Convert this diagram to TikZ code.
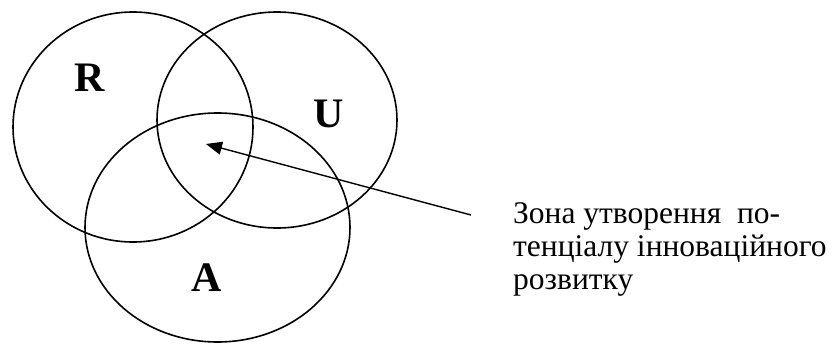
\documentclass[tikz,border=0pt]{standalone}
\usepackage{fontspec}
\setmainfont{Liberation Serif}
\usepackage{tikz}
\usetikzlibrary{arrows.meta,positioning,shapes.geometric}

\begin{document}
\begin{tikzpicture}[
      x=1pt, y=-1pt,
      >={Triangle[length=16pt, width=13pt]},
      zone/.style={ellipse, draw, line width=1.6pt, inner sep=0pt},
      letter/.style={font=\fontsize{42}{42}\selectfont\bfseries, inner sep=0pt},
      note/.style={font=\fontsize{31.5}{33}\selectfont, align=left, inner sep=0pt}
    ]
    \useasboundingbox (0,0) rectangle (833,343);

    \node[zone, minimum width=240pt, minimum height=230pt] (setR) at (133,127) {};
    \node[zone, minimum width=240pt, minimum height=216pt] (setU) at (277,120) {};
    \node[zone, minimum width=265pt, minimum height=229pt] (setA) at (217.5,227.5) {};

    \node[letter] (labR) at (90,78) {R};
    \node[letter] (labU) at (329,114) {U};
    \node[letter] (labA) at (207,278) {A};

    \node[note, anchor=north west] (zonetext) at (513,202)
      {Зона утворення \ по-\\
       тенціалу інноваційного\\
       розвитку};

    \coordinate (zonetail) at (471,215);
    \coordinate (zonecore) at (206,144);
    \draw[->, line width=1.4pt] (zonetail) -- (zonecore);
  \end{tikzpicture}
\end{document}
